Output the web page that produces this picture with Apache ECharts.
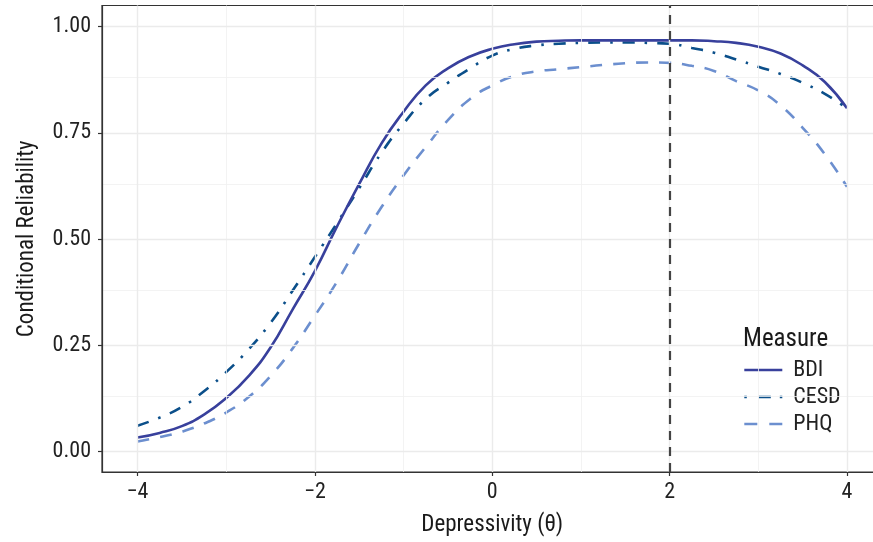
<!DOCTYPE html>
<html><head><meta charset="utf-8">
<script src="https://cdn.jsdelivr.net/npm/echarts@6/dist/echarts.min.js"></script>
<style>html,body{margin:0;padding:0;background:#fff}#c{width:873px;height:542px}</style>
</head><body><div id="c"></div>
<script>
const theta = [-4,-3.75,-3.5,-3.25,-3,-2.75,-2.5,-2.25,-2,-1.75,-1.5,-1.25,-1,-0.75,-0.5,-0.25,0,0.25,0.5,0.75,1,1.25,1.5,1.75,2,2.25,2.5,2.75,3,3.25,3.5,3.75,4];
const bdi  = [.033,.044,.060,.087,.126,.177,.245,.335,.425,.53,.63,.725,.80,.862,.902,.930,.948,.959,.965,.967,.968,.968,.968,.968,.968,.968,.966,.962,.953,.937,.909,.870,.808];
const cesd = [.061,.080,.105,.142,.187,.240,.303,.379,.458,.538,.620,.703,.772,.830,.868,.902,.932,.948,.956,.960,.962,.963,.963,.962,.960,.950,.939,.923,.906,.889,.868,.842,.808];
const phq  = [.024,.034,.047,.066,.092,.128,.178,.243,.320,.40,.49,.575,.650,.717,.78,.830,.862,.884,.895,.900,.905,.910,.914,.916,.915,.908,.896,.872,.850,.815,.762,.700,.623];
const xTicks = [-4,-2,0,2,4];
const xMinor = [-3,-1,1,3];
const yTicks = [0,0.25,0.5,0.75,1.0];
const yMinor = [0.125,0.375,0.625,0.875];
const cutoff = 2;

const FONT = "'Liberation Sans Narrow','Roboto Condensed','Arial Narrow',Roboto,sans-serif";
const pair = a => theta.map((t,i)=>[t,a[i]]);
const fmtX = v => String(v).replace('-', '\u2212');
const C = {BDI:'#38409c', CESD:'#0b4f8a', PHQ:'#6c8fcf'};
const D = {BDI:'solid', CESD:[12,10,2.5,10], PHQ:[12,11]};
const LD = {BDI:'solid', CESD:[12,9,2.5,12], PHQ:[13,12]};
const LO = {BDI:0, CESD:21, PHQ:0};

const chart = echarts.init(document.getElementById('c'), null, {renderer:'canvas'});
chart.setOption({
  animation:false,
  backgroundColor:'#fff',
  grid:{left:102, top:5.5, right:-9.5, bottom:70, show:true, borderColor:'#333', borderWidth:1.2, backgroundColor:'#fff', outerBoundsMode:'none', containLabel:false},
  xAxis:{type:'value', min:-4.4, max:4.4, z:5,
    name:'Depressivity (\u03b8)', nameLocation:'middle', nameGap:42,
    nameTextStyle:{fontFamily:FONT, fontSize:23, color:'#1a1a1a'},
    axisLine:{show:true, onZero:false, lineStyle:{color:'#333', width:1.2}},
    axisTick:{show:true, length:4, lineStyle:{color:'#333', width:1.2}, customValues:xTicks},
    axisLabel:{customValues:xTicks, formatter:fmtX, margin:9, fontFamily:FONT, fontSize:22, color:'#222'},
    splitLine:{show:false}},
  yAxis:{type:'value', min:-0.048, max:1.05, z:5,
    name:'Conditional Reliability', nameLocation:'middle', nameGap:63,
    nameTextStyle:{fontFamily:FONT, fontSize:23, color:'#1a1a1a'},
    axisLine:{show:true, onZero:false, lineStyle:{color:'#333', width:1.2}},
    axisTick:{show:true, length:4, lineStyle:{color:'#333', width:1.2}, customValues:yTicks},
    axisLabel:{customValues:yTicks, formatter:v=>v.toFixed(2), margin:11, fontFamily:FONT, fontSize:22, color:'#222'},
    splitLine:{show:false}},
  legend:{orient:'vertical', left:733, top:326,
    data:['BDI','CESD','PHQ'].map(n=>({name:n, itemStyle:{color:'transparent', borderWidth:0, opacity:0},
      lineStyle:{color:C[n], width:2.6, type:LD[n], dashOffset:LO[n], opacity:1}})),
    backgroundColor:'#fff', padding:[33,16,12,10], itemWidth:38, itemHeight:14, itemGap:5,
    textStyle:{fontFamily:FONT, fontSize:22, color:'#222', padding:[0,0,0,6]}},
  graphic:[{type:'text', left:743, top:327, z:100,
    style:{text:'Measure', fontFamily:FONT, fontSize:25, fill:'#1a1a1a'}}],
  series:[
    {name:'grid', type:'line', data:[], silent:true, z:1,
     markLine:{silent:true, symbol:'none', label:{show:false}, animation:false,
       data:[
         ...xMinor.map(v=>({xAxis:v, lineStyle:{color:'#f0f0f0', width:0.8, type:'solid'}})),
         ...yMinor.map(v=>({yAxis:v, lineStyle:{color:'#f0f0f0', width:0.8, type:'solid'}})),
         ...xTicks.map(v=>({xAxis:v, lineStyle:{color:'#ebebeb', width:1.4, type:'solid'}})),
         ...yTicks.map(v=>({yAxis:v, lineStyle:{color:'#ebebeb', width:1.4, type:'solid'}}))
       ]}},
    {name:'BDI', type:'line', data:pair(bdi), smooth:true, symbol:'none', z:4,
     lineStyle:{color:C.BDI, width:2.6, type:D.BDI}, itemStyle:{color:C.BDI}},
    {name:'CESD', type:'line', data:pair(cesd), smooth:true, symbol:'none', z:3,
     lineStyle:{color:C.CESD, width:2.6, type:D.CESD}, itemStyle:{color:C.CESD}},
    {name:'PHQ', type:'line', data:pair(phq), smooth:true, symbol:'none', z:3,
     lineStyle:{color:C.PHQ, width:2.6, type:D.PHQ}, itemStyle:{color:C.PHQ},
     markLine:{silent:true, symbol:'none', label:{show:false},
       data:[{xAxis:cutoff}], lineStyle:{color:'#444', width:2.2, type:[9,7]}}}
  ]
});
</script></body></html>
